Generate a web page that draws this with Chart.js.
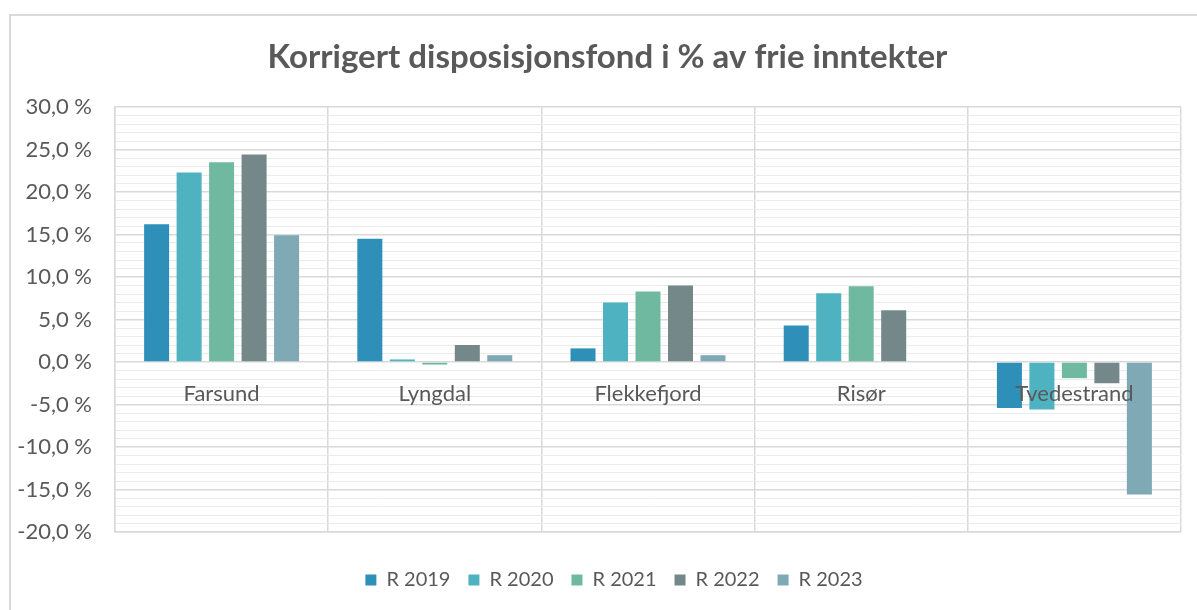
<!DOCTYPE html>
<html lang="no">
<head>
<meta charset="utf-8">
<title>Korrigert disposisjonsfond i % av frie inntekter</title>
<script src="https://cdn.jsdelivr.net/npm/chart.js@4.4.1/dist/chart.umd.min.js"></script>
<style>
  html, body { margin: 0; padding: 0; background: #fff; overflow: hidden; }
  #frame {
    position: absolute; left: 9px; top: 14px;
    width: 1400px; height: 800px;
    border: 2px solid #d9d9d9; box-sizing: border-box;
  }
  #wrap { position: absolute; left: 0; top: 0; width: 1197px; height: 610px; }
</style>
</head>
<body>
<div id="frame"></div>
<div id="wrap"><canvas id="chart"></canvas></div>
<script>
// Chart data
const categories = ['Farsund', 'Lyngdal', 'Flekkefjord', 'Risør', 'Tvedestrand'];
const seriesNames = ['R 2019', 'R 2020', 'R 2021', 'R 2022', 'R 2023'];
const r2019 = [16.2, 14.5, 1.6, 4.3, -5.4];
const r2020 = [22.3, 0.3, 7.0, 8.1, -5.6];
const r2021 = [23.5, -0.3, 8.3, 8.9, -1.9];
const r2022 = [24.4, 2.0, 9.0, 6.1, -2.5];
const r2023 = [14.9, 0.8, 0.8, null, -15.6];
const yMin = -20;
const yMax = 30;

const seriesValues = [r2019, r2020, r2021, r2022, r2023];
const seriesColors = ['#2e8fb9', '#4fb2c1', '#6fb9a0', '#74888a', '#7ea9b5'];

const FONT = 'Lato, Carlito, sans-serif';
const TEXT = '#595959';

/**
 * Format ticks the Norwegian way: "25,0 %"
 */
function pct(v) {
  return v.toFixed(1).replace('.', ',') + ' %';
}

/**
 * The original chart is wider than the screenshot, so its title and
 * legend sit a bit right of the visible centre. Nudge them after layout.
 */
const centreShift = {
  id: 'centreShift',
  afterLayout(chart) {
    if (chart.titleBlock) chart.titleBlock.left = 34;
    if (chart.legend) chart.legend.left = 47;
  }
};

const datasets = seriesNames.map((name, i) => ({
  label: name,
  data: seriesValues[i],
  backgroundColor: seriesColors[i],
  borderWidth: 0,
  categoryPercentage: 0.762,
  barPercentage: 0.77
}));

const ctx = document.getElementById('chart').getContext('2d');

new Chart(ctx, {
  type: 'bar',
  data: { labels: categories, datasets: datasets },
  plugins: [centreShift],
  options: {
    responsive: true,
    maintainAspectRatio: false,
    animation: false,
    layout: { padding: { top: 0, left: 0, right: 16, bottom: 10 } },
    plugins: {
      title: {
        display: true,
        text: 'Korrigert disposisjonsfond i % av frie inntekter',
        color: TEXT,
        font: { family: FONT, size: 33, weight: 'bold' },
        padding: { top: 38, bottom: 29.4 }
      },
      legend: {
        position: 'bottom',
        labels: {
          color: TEXT,
          font: { family: FONT, size: 20 },
          boxWidth: 11,
          boxHeight: 11,
          padding: 18
        }
      },
      tooltip: { enabled: false }
    },
    scales: {
      // bottom axis: only category separators + space above the legend
      x: {
        position: 'bottom',
        offset: true,
        grid: {
          offset: true,
          color: '#d9d9d9',
          lineWidth: 1.5,
          drawTicks: true,
          tickLength: 20,
          tickColor: 'rgba(0,0,0,0)'
        },
        border: { display: true, color: '#d9d9d9', width: 1.5 },
        ticks: { display: false }
      },
      // category names sitting on the 0 % line, drawn above the bars
      x2: {
        type: 'category',
        axis: 'x',
        position: { y: 0 },
        offset: true,
        grid: { display: false, drawTicks: false },
        border: { display: false },
        ticks: {
          color: TEXT,
          font: { family: FONT, size: 22 },
          padding: 19,
          z: 1
        }
      },
      y: {
        min: yMin,
        max: yMax,
        grid: {
          drawTicks: false,
          color: (c) => (c.tick && c.tick.value % 5 === 0) ? '#d9d9d9' : '#ebebeb',
          lineWidth: (c) => (c.tick && c.tick.value % 5 === 0) ? 1.5 : 1
        },
        border: { display: true, color: '#d9d9d9', width: 1.5 },
        ticks: {
          stepSize: 1,
          autoSkip: false,
          color: TEXT,
          font: { family: FONT, size: 22 },
          padding: 23,
          callback: (v) => (v % 5 === 0) ? pct(v) : ''
        },
        afterFit: (scale) => { scale.width = 115; }
      }
    }
  }
});
</script>
</body>
</html>
